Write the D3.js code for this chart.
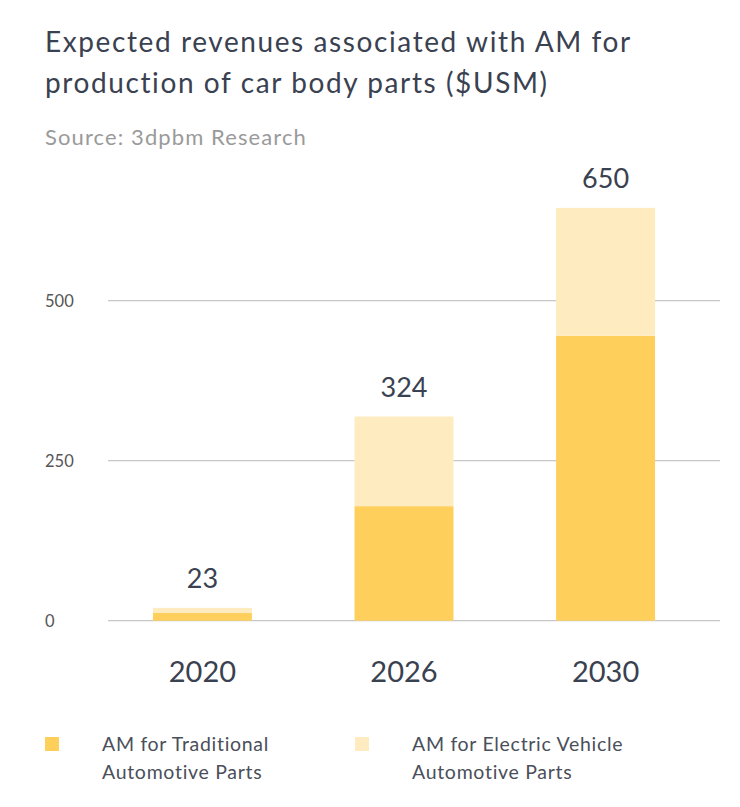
<!DOCTYPE html>
<html><head><meta charset="utf-8">
<script src="https://cdn.jsdelivr.net/npm/d3@7"></script>
<style>body{margin:0;background:#fff;font-family:Lato,"Open Sans",sans-serif;}</style>
</head><body><svg id="c" width="740" height="807"></svg>
<script>
const years = ["2020","2026","2030"];
const traditional = [12, 179, 445];
const electric = [8, 140, 200];
const totalLabels = ["23","324","650"];
const yTicks = [0, 250, 500];
const seriesNames = [["AM for Traditional","Automotive Parts"],["AM for Electric Vehicle","Automotive Parts"]];
const colors = ["#FED05B","#FEEBC0"];

const svg = d3.select("#c");
svg.append("rect").attr("width",740).attr("height",807).attr("fill","#fff");
const title = svg.append("text").attr("x",45).attr("y",52).attr("fill","#3a4150").attr("font-size",28).attr("letter-spacing",1.6);
title.append("tspan").attr("x",45).text("Expected revenues associated with AM for");
title.append("tspan").attr("x",45).attr("dy",41).text("production of car body parts ($USM)");
svg.append("text").attr("x",45).attr("y",145).attr("fill","#9a9a9a").attr("font-size",22).attr("letter-spacing",1.1).text("Source: 3dpbm Research");

const x = d3.scaleBand().domain(years).range([108,700]).paddingInner(0.509).paddingOuter(0.223);
const y = d3.scaleLinear().domain([0,500]).range([620.7,300.7]);

const g = svg.append("g");
g.selectAll("line.grid").data(yTicks).join("line").attr("class","grid")
  .attr("x1",108).attr("x2",720).attr("y1",d=>y(d)).attr("y2",d=>y(d))
  .attr("stroke","#c8c8c8").attr("stroke-width",1.2);
g.selectAll("text.yt").data(yTicks).join("text").attr("class","yt")
  .attr("x",45).attr("y",d=>y(d)+6).attr("font-size",16.5).attr("fill","#555").text(d=>d);

const stack = d3.stack().keys([0,1])(years.map((yr,i)=>({0:traditional[i],1:electric[i],yr})));
stack.forEach((s,k)=>{
  g.selectAll("rect.s"+k).data(s).join("rect").attr("class","s"+k)
    .attr("x",d=>x(d.data.yr)).attr("width",x.bandwidth())
    .attr("y",d=>y(d[1])).attr("height",d=>y(d[0])-y(d[1])).attr("fill",colors[k]);
});
g.selectAll("text.tot").data(years).join("text").attr("class","tot")
  .attr("x",d=>x(d)+x.bandwidth()/2).attr("y",(d,i)=>y(traditional[i]+electric[i])-20)
  .attr("text-anchor","middle").attr("font-size",27).attr("fill","#3a4150").text((d,i)=>totalLabels[i]);
g.selectAll("text.xl").data(years).join("text").attr("class","xl")
  .attr("x",d=>x(d)+x.bandwidth()/2).attr("y",682)
  .attr("text-anchor","middle").attr("font-size",29).attr("fill","#3a4150").text(d=>d);

const lx = [45, 355], tx = [102, 412];
seriesNames.forEach((nm,k)=>{
  svg.append("rect").attr("x",lx[k]).attr("y",737).attr("width",14).attr("height",14).attr("fill",colors[k]);
  const t = svg.append("text").attr("x",tx[k]).attr("y",751).attr("font-size",19.5).attr("letter-spacing",0.7).attr("fill","#4a4f5a");
  t.append("tspan").attr("x",tx[k]).text(nm[0]);
  t.append("tspan").attr("x",tx[k]).attr("dy",28).text(nm[1]);
});
</script></body></html>
